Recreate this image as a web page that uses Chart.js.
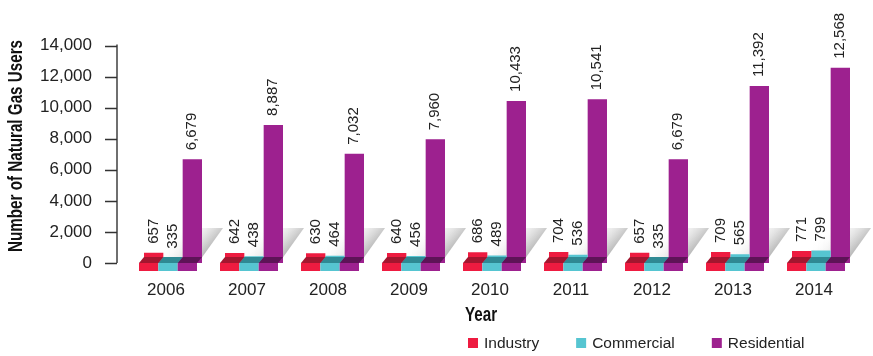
<!DOCTYPE html>
<html>
<head>
<meta charset="utf-8">
<title>Natural Gas Users</title>
<script src="https://cdn.jsdelivr.net/npm/chart.js@4.4.1/dist/chart.umd.min.js"></script>
<style>
  html, body { margin: 0; padding: 0; background: #fff; }
</style>
</head>
<body>
<canvas id="gas-chart" width="873" height="356"></canvas>
<script>
// Natural gas users by sector, 2006-2014
const years = ['2006', '2007', '2008', '2009', '2010', '2011', '2012', '2013', '2014'];
const industry = [657, 642, 630, 640, 686, 704, 657, 709, 771];
const commercial = [335, 438, 464, 456, 489, 536, 335, 565, 799];
const residential = [6679, 8887, 7032, 7960, 10433, 10541, 6679, 11392, 12568];
const seriesNames = ['Industry', 'Commercial', 'Residential'];

const colors = ['#ee1b40', '#56c5d1', '#9d218f'];
const darkColors = ['#a3162f', '#2f8993', '#5e1357'];
const textColor = '#222';
const bodyFont = '"Liberation Sans", Arial, sans-serif';
const boldFont = 'bold 20px "Liberation Sans", Arial, sans-serif';
const NARROW = 0.76; // horizontal squeeze for the bold titles

// slab in front of each bar: depth, left shift and height of its top face
const SLAB = 8, SHIFT = 5, RISE = 6;

// grey floor shadow behind every year group
const groupShadow = {
  id: 'groupShadow',
  beforeDatasetsDraw(chart) {
    const ctx = chart.ctx;
    const first = chart.getDatasetMeta(0).data;
    const last = chart.getDatasetMeta(chart.data.datasets.length - 1).data;
    first.forEach((el, i) => {
      const l = el.x - el.width / 2;
      const r = last[i].x + last[i].width / 2;
      const yb = el.base;
      const yt = yb - 35;
      const dx = 25;
      const g = ctx.createLinearGradient(r - 22, yt, r + 8, yb - 6);
      g.addColorStop(0, 'rgba(255,255,255,0)');
      g.addColorStop(0.55, 'rgba(212,212,212,0.65)');
      g.addColorStop(1, 'rgba(150,150,150,0.9)');
      ctx.save();
      ctx.beginPath();
      ctx.moveTo(l, yb);
      ctx.lineTo(r - 4, yb);
      ctx.lineTo(r - 4 + dx, yt);
      ctx.lineTo(l + dx, yt);
      ctx.closePath();
      ctx.fillStyle = g;
      ctx.fill();
      ctx.restore();
    });
  }
};

// front slabs, their darker top faces and the rotated value labels
const barDecor = {
  id: 'barDecor',
  afterDatasetsDraw(chart) {
    const ctx = chart.ctx;
    ctx.save();
    chart.data.datasets.forEach((ds, di) => {
      chart.getDatasetMeta(di).data.forEach((el) => {
        const L = el.x - el.width / 2, R = el.x + el.width / 2, b = el.base;
        ctx.fillStyle = darkColors[di];
        ctx.beginPath();
        ctx.moveTo(L - SHIFT, b);
        ctx.lineTo(R - SHIFT, b);
        ctx.lineTo(R, b - RISE);
        ctx.lineTo(L, b - RISE);
        ctx.closePath();
        ctx.fill();
        ctx.fillStyle = colors[di];
        ctx.fillRect(L - SHIFT, b, R - L, SLAB);
      });
    });
    ctx.fillStyle = textColor;
    ctx.font = '15px ' + bodyFont;
    ctx.textAlign = 'left';
    ctx.textBaseline = 'middle';
    chart.data.datasets.forEach((ds, di) => {
      chart.getDatasetMeta(di).data.forEach((el, i) => {
        ctx.save();
        ctx.translate(el.x, el.y - 9);
        ctx.rotate(-Math.PI / 2);
        ctx.fillText(ds.data[i].toLocaleString('en-US'), 0, 0);
        ctx.restore();
      });
    });
    ctx.restore();
  }
};

// y axis line with outside tick marks, axis titles and the legend
const frame = {
  id: 'frame',
  afterDraw(chart) {
    const ctx = chart.ctx;
    const y = chart.scales.y;
    const { top, bottom, left } = chart.chartArea;
    const ax = left - 15.5;
    ctx.save();
    ctx.strokeStyle = '#333';
    ctx.lineWidth = 1.4;
    ctx.beginPath();
    ctx.moveTo(ax, top - 1);
    ctx.lineTo(ax, bottom);
    y.ticks.forEach(t => {
      const py = Math.round(y.getPixelForValue(t.value)) + 0.5;
      ctx.moveTo(ax - 12, py);
      ctx.lineTo(ax, py);
    });
    ctx.stroke();

    ctx.fillStyle = '#111';
    ctx.font = boldFont;
    ctx.textAlign = 'center';
    ctx.textBaseline = 'middle';

    ctx.save();
    ctx.translate(481, 315);
    ctx.scale(NARROW, 1);
    ctx.fillText('Year', 0, 0);
    ctx.restore();

    ctx.save();
    ctx.translate(16, 146);
    ctx.rotate(-Math.PI / 2);
    ctx.scale(NARROW, 1);
    ctx.fillText('Number of Natural Gas Users', 0, 0);
    ctx.restore();

    ctx.font = '15.5px ' + bodyFont;
    ctx.textAlign = 'left';
    let x = 468;
    seriesNames.forEach((name, i) => {
      ctx.fillStyle = colors[i];
      ctx.fillRect(x, 338, 10, 10);
      ctx.fillStyle = textColor;
      ctx.fillText(name, x + 16, 343.5);
      x += 16 + ctx.measureText(name).width + 37;
    });
    ctx.restore();
  }
};

new Chart(document.getElementById('gas-chart'), {
  type: 'bar',
  data: {
    labels: years,
    datasets: [industry, commercial, residential].map((d, i) => ({
      label: seriesNames[i],
      data: d,
      backgroundColor: colors[i],
      borderWidth: 0,
      barPercentage: 1,
      categoryPercentage: 0.716
    }))
  },
  options: {
    responsive: false,
    animation: false,
    locale: 'en-US',
    layout: { padding: { left: 0, right: 11.5, top: 45.5, bottom: 43 } },
    plugins: {
      legend: { display: false },
      tooltip: { enabled: false }
    },
    scales: {
      x: {
        grid: { display: false, drawTicks: false },
        border: { display: false },
        ticks: {
          color: textColor,
          font: { family: bodyFont, size: 17 },
          padding: 17,
          labelOffset: -7
        },
        afterFit(scale) { scale.height = 50; }
      },
      y: {
        min: 0,
        max: 14000,
        grid: { display: false, drawTicks: false },
        border: { display: false },
        ticks: {
          stepSize: 2000,
          color: textColor,
          font: { family: bodyFont, size: 17 },
          padding: 40.5
        },
        afterFit(scale) {
          // wide label gap, but no extra room above or below the plot
          scale.width = 132.5;
          scale.paddingTop = 0;
          scale.paddingBottom = 0;
        }
      }
    }
  },
  plugins: [groupShadow, barDecor, frame]
});
</script>
</body>
</html>
